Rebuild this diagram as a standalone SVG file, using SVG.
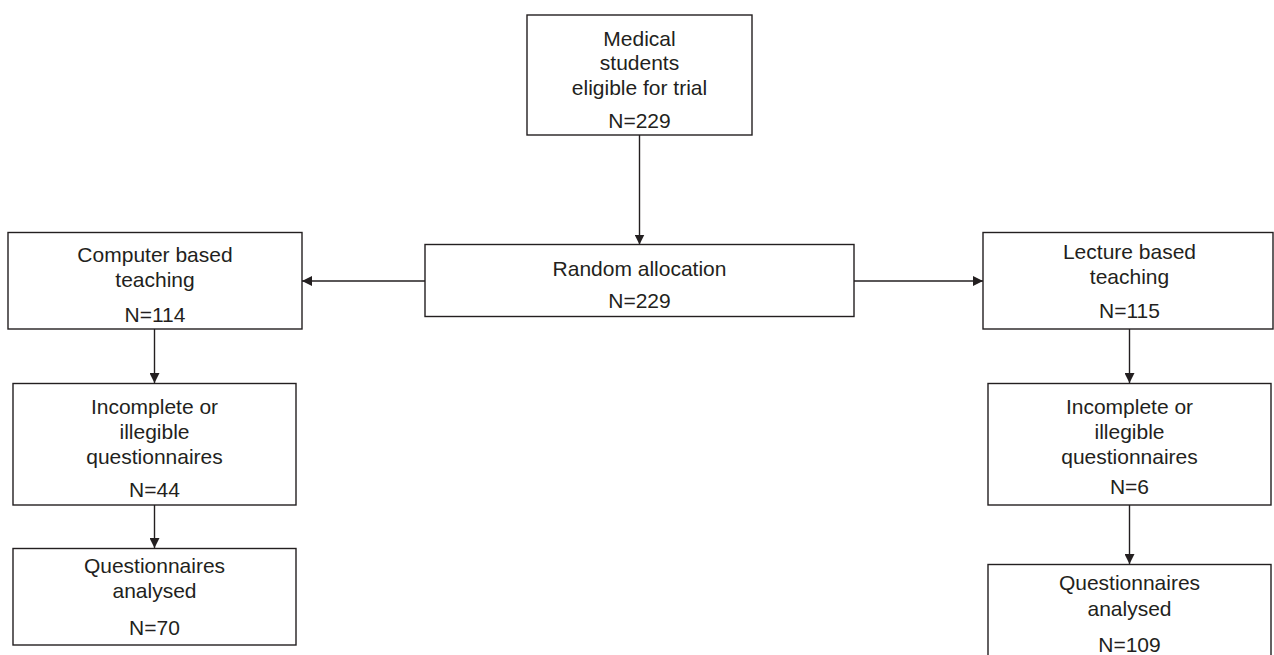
<svg xmlns="http://www.w3.org/2000/svg" width="1274" height="655" viewBox="0 0 1274 655">
<style>
.box{fill:#fff;stroke:#231f20;stroke-width:1.4}
.t{font-family:"Liberation Sans",Arial,Helvetica,sans-serif;font-size:21px;fill:#231f20;text-anchor:middle}
.c{fill:none;stroke:#231f20;stroke-width:1.4}
</style>
<defs>
<marker id="ah" markerUnits="userSpaceOnUse" markerWidth="10" markerHeight="10" viewBox="0 0 10 10" refX="10" refY="5" orient="auto">
<path d="M0,0 L10,5 L0,10 Z" fill="#231f20"/>
</marker>
</defs>
<rect width="1274" height="655" fill="#fff"/>
<g id="connectors">
<line class="c" x1="639.5" y1="135" x2="639.5" y2="244.5" marker-end="url(#ah)"/>
<line class="c" x1="425" y1="281" x2="302" y2="281" marker-end="url(#ah)"/>
<line class="c" x1="854" y1="281" x2="983" y2="281" marker-end="url(#ah)"/>
<line class="c" x1="154.5" y1="329" x2="154.5" y2="383" marker-end="url(#ah)"/>
<line class="c" x1="154.5" y1="505" x2="154.5" y2="548" marker-end="url(#ah)"/>
<line class="c" x1="1129.5" y1="329" x2="1129.5" y2="383" marker-end="url(#ah)"/>
<line class="c" x1="1129.5" y1="505" x2="1129.5" y2="564" marker-end="url(#ah)"/>
</g>
<g id="eligible">
<rect class="box" x="527" y="15" width="225" height="120"/>
<text class="t" x="639.5" y="46">Medical</text>
<text class="t" x="639.5" y="70">students</text>
<text class="t" x="639.5" y="95">eligible for trial</text>
<text class="t" x="639.5" y="128">N=229</text>
</g>
<g id="random">
<rect class="box" x="425" y="244.5" width="429" height="72"/>
<text class="t" x="639.5" y="275.5">Random allocation</text>
<text class="t" x="639.5" y="307.5">N=229</text>
</g>
<g id="computer">
<rect class="box" x="8" y="232.5" width="294" height="96.5"/>
<text class="t" x="155" y="262">Computer based</text>
<text class="t" x="155" y="287">teaching</text>
<text class="t" x="155" y="321.5">N=114</text>
</g>
<g id="lecture">
<rect class="box" x="983" y="232.5" width="290" height="96.5"/>
<text class="t" x="1129.5" y="258.5">Lecture based</text>
<text class="t" x="1129.5" y="284">teaching</text>
<text class="t" x="1129.5" y="318">N=115</text>
</g>
<g id="incomplete-left">
<rect class="box" x="13" y="383.5" width="283" height="121.5"/>
<text class="t" x="154.5" y="413.5">Incomplete or</text>
<text class="t" x="154.5" y="439">illegible</text>
<text class="t" x="154.5" y="464">questionnaires</text>
<text class="t" x="154.5" y="496.5">N=44</text>
</g>
<g id="analysed-left">
<rect class="box" x="13" y="548.5" width="283" height="96.5"/>
<text class="t" x="154.5" y="572.5">Questionnaires</text>
<text class="t" x="154.5" y="598">analysed</text>
<text class="t" x="154.5" y="635">N=70</text>
</g>
<g id="incomplete-right">
<rect class="box" x="988" y="383.5" width="283" height="121.5"/>
<text class="t" x="1129.5" y="413.5">Incomplete or</text>
<text class="t" x="1129.5" y="439">illegible</text>
<text class="t" x="1129.5" y="464">questionnaires</text>
<text class="t" x="1129.5" y="494">N=6</text>
</g>
<g id="analysed-right">
<rect class="box" x="988" y="564.5" width="283" height="100"/>
<text class="t" x="1129.5" y="590">Questionnaires</text>
<text class="t" x="1129.5" y="615.5">analysed</text>
<text class="t" x="1129.5" y="651.5">N=109</text>
</g>
</svg>
